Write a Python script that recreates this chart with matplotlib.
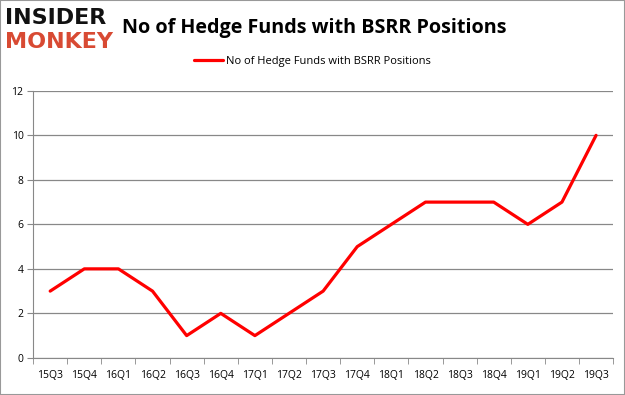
import matplotlib.pyplot as plt
from matplotlib.patches import Rectangle

quarters = ['15Q3', '15Q4', '16Q1', '16Q2', '16Q3', '16Q4', '17Q1', '17Q2', '17Q3',
            '17Q4', '18Q1', '18Q2', '18Q3', '18Q4', '19Q1', '19Q2', '19Q3']
funds = [3, 4, 4, 3, 1, 2, 1, 2, 3, 5, 6, 7, 7, 7, 6, 7, 10]
series_name = 'No of Hedge Funds with BSRR Positions'

plt.rcParams['font.family'] = ['Open Sans', 'DejaVu Sans']

fig = plt.figure(figsize=(6.25, 3.95), dpi=100)
ax = fig.add_axes([0.053, 0.094, 0.928, 0.676])

x = range(len(quarters))
ax.plot(x, funds, color='#ff0000', lw=2.3, solid_capstyle='round', label=series_name)

ax.set_xlim(-0.5, len(quarters) - 0.5)
ax.set_ylim(0, 12)
ax.set_yticks(range(0, 13, 2))
ax.set_xticks(list(x))
ax.set_xticklabels(quarters, fontsize=7.5)
ax.set_xticks([i - 0.5 for i in range(len(quarters) + 1)], minor=True)
ax.tick_params(axis='x', which='major', length=0, pad=9)
ax.tick_params(axis='x', which='minor', length=4, color='#888888')
ax.tick_params(axis='y', length=4, color='#888888', labelsize=7.5, pad=3)
ax.grid(axis='y', color='#888888', lw=0.9)
ax.set_axisbelow(True)
for s in ['top', 'right']:
    ax.spines[s].set_visible(False)
for s in ['left', 'bottom']:
    ax.spines[s].set_color('#888888')

fig.text(0.502, 0.93, series_name, ha='center', va='center', fontsize=14.2, fontweight='bold')
fig.legend(loc='center', bbox_to_anchor=(0.5, 0.845), frameon=False, fontsize=8,
           handlelength=2.6, handletextpad=0.3)

# logo
fig.text(0.008, 0.955, 'INSIDER', ha='left', va='center', fontsize=16, fontweight='black',
         family=['DejaVu Sans'], color='#111111')
fig.text(0.008, 0.893, 'MONKEY', ha='left', va='center', fontsize=16, fontweight='black',
         family=['DejaVu Sans'], color='#d84a33')

fig.patches.append(Rectangle((0, 0), 1, 1, transform=fig.transFigure, fill=False,
                             edgecolor='#999999', lw=1.5))

fig.savefig('out.png', dpi=100)
